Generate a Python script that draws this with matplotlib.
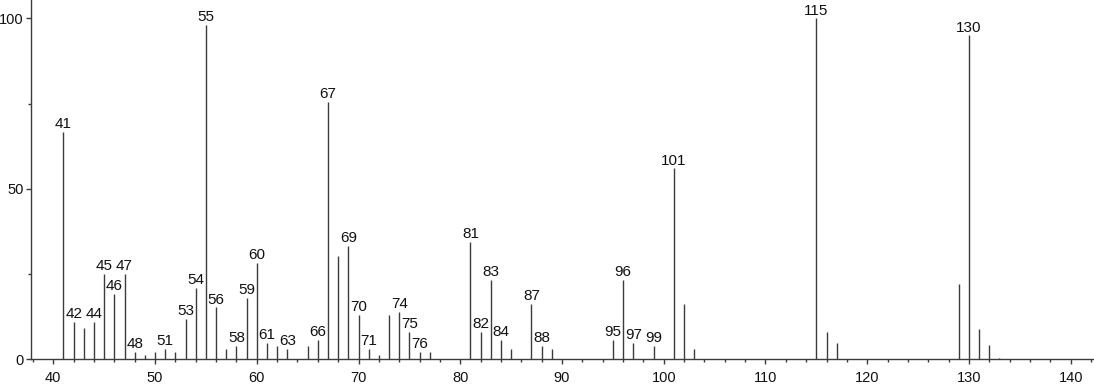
import matplotlib
matplotlib.use("Agg")
import matplotlib.pyplot as plt
from matplotlib.ticker import MultipleLocator

plt.rcParams['font.family'] = ['Liberation Sans', 'DejaVu Sans']

# m/z values and relative intensities
masses = [41, 42, 43, 44, 45, 46, 47, 48, 49, 50, 51, 52, 53, 54, 55, 56, 57, 58, 59, 60,
          61, 62, 63, 65, 66, 67, 68, 69, 70, 71, 72, 73, 74, 75, 76, 77, 81, 82, 83, 84,
          85, 87, 88, 89, 95, 96, 97, 99, 101, 102, 103, 115, 116, 117, 129, 130, 131, 132, 133]
intensities = [66.6, 11.0, 9.1, 11.0, 25.0, 19.1, 25.0, 2.2, 1.2, 2.2, 3.0, 2.2, 11.8, 20.9, 98.0, 15.2, 3.0, 3.9, 18.1, 28.2,
               4.9, 3.9, 3.0, 3.9, 5.7, 75.5, 30.2, 33.2, 13.0, 3.0, 1.3, 13.0, 14.0, 8.0, 2.2, 2.2, 34.4, 8.0, 23.3, 5.7,
               2.9, 16.2, 3.9, 2.9, 5.7, 23.3, 4.7, 3.9, 56.0, 16.2, 2.9, 100.0, 8.0, 4.7, 22.2, 95.0, 8.8, 4.2, 0.3]
labeled = [41, 42, 44, 45, 46, 47, 48, 51, 53, 54, 55, 56, 58, 59, 60, 61, 63, 66, 67, 69,
           70, 71, 74, 75, 76, 81, 82, 83, 84, 87, 88, 95, 96, 97, 99, 101, 115, 130]

x_ticks = [40, 50, 60, 70, 80, 90, 100, 110, 120, 130, 140]
y_ticks = [0, 50, 100]

fig = plt.figure(figsize=(10.94, 3.84), dpi=100)
ax = fig.add_axes([30.7 / 1094, (384 - 359.3) / 384, 1 - 30.7 / 1094, 359.3 / 384])

line_col = '#3c3c3c'
ax.vlines(masses, 0, intensities, colors=line_col, linewidth=1.0)

for m, v in zip(masses, intensities):
    if m in labeled:
        ax.annotate(str(m), xy=(m, v), xytext=(0, 0.6), textcoords='offset points',
                    ha='center', va='bottom', fontsize=11, color='#111111')

ax.set_xlim(37.78, 142.29)
ax.set_ylim(0, 105.4)

for s in ['top', 'right']:
    ax.spines[s].set_visible(False)
for s in ['left', 'bottom']:
    ax.spines[s].set_color(line_col)
    ax.spines[s].set_linewidth(1.0)

ax.set_xticks(x_ticks)
ax.set_yticks(y_ticks)
ax.xaxis.set_minor_locator(MultipleLocator(2))
ax.yaxis.set_minor_locator(MultipleLocator(25))
ax.tick_params(axis='both', which='major', length=3.6, width=1.0, color=line_col,
               labelsize=10.5, labelcolor='#111111')
ax.tick_params(axis='both', which='minor', length=2.2, width=1.0, color=line_col)
ax.tick_params(axis='x', which='major', pad=4.8)
ax.tick_params(axis='y', which='major', pad=1.5)

fig.savefig('out.png', dpi=100)
